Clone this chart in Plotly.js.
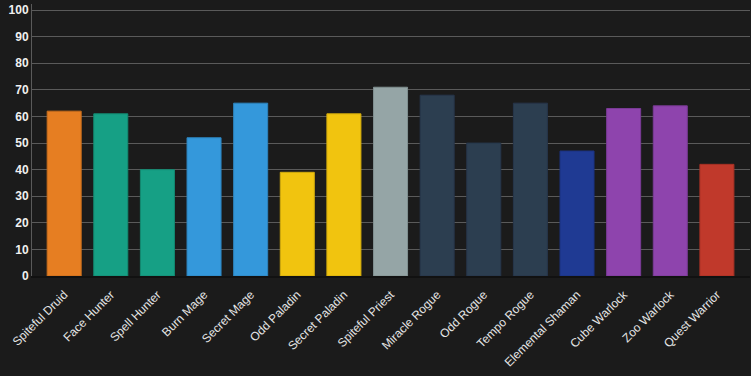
<!DOCTYPE html>
<html><head><meta charset="utf-8">
<script src="https://cdn.plot.ly/plotly-3.0.1.min.js"></script>
<style>html,body{margin:0;padding:0;background:#1b1b1b;}#chart{width:751px;height:376px;}</style>
</head><body><div id="chart"></div>
<script>
const categories = ["Spiteful Druid","Face Hunter","Spell Hunter","Burn Mage","Secret Mage","Odd Paladin","Secret Paladin","Spiteful Priest","Miracle Rogue","Odd Rogue","Tempo Rogue","Elemental Shaman","Cube Warlock","Zoo Warlock","Quest Warrior"];
const values = [62, 61, 40, 52, 65, 39, 61, 71, 68, 50, 65, 47, 63, 64, 42];
const colors = ["#e67e22","#16a085","#16a085","#3498db","#3498db","#f1c40f","#f1c40f","#95a5a6","#2c3e50","#2c3e50","#2c3e50","#1f3a93","#8e44ad","#8e44ad","#c0392b"];
const outlines = ["#c86d1d","#138a72","#138a72","#2d84be","#2d84be","#d1aa0d","#d1aa0d","#819091","#26354a","#26354a","#26354a","#1b3280","#7a3b96","#7a3b96","#a63125"];

Plotly.newPlot('chart', [{
  type: 'bar',
  x: categories,
  y: values,
  marker: {color: colors, line: {color: outlines, width: 1}},
  hoverinfo: 'x+y'
}], {
  width: 751, height: 376,
  paper_bgcolor: '#1b1b1b', plot_bgcolor: '#1b1b1b',
  margin: {l: 32, r: 1, t: 4, b: 100},
  bargap: 0.27,
  showlegend: false,
  font: {family: 'Liberation Sans, Arial, sans-serif', color: '#e6e6e6'},
  xaxis: {
    range: [-0.69, 14.71],
    tickangle: -45,
    tickfont: {size: 12, color: '#e6e6e6'},
    showgrid: false, zeroline: false,
    showline: true, linecolor: '#111111', linewidth: 2,
    ticks: 'outside', ticklen: 5, tickcolor: 'rgba(0,0,0,0)', automargin: false
  },
  yaxis: {
    range: [0, 102.3],
    tickvals: [0,10,20,30,40,50,60,70,80,90,100],
    tickfont: {size: 12, color: '#f0f0f0', weight: 'bold'},
    showgrid: true, gridcolor: '#5a5a5a', gridwidth: 1,
    zeroline: false,
    showline: true, linecolor: '#5a5a5a', linewidth: 1,
    ticks: '', ticklen: 0, automargin: false
  }
}, {displayModeBar: false, staticPlot: true});
</script></body></html>
